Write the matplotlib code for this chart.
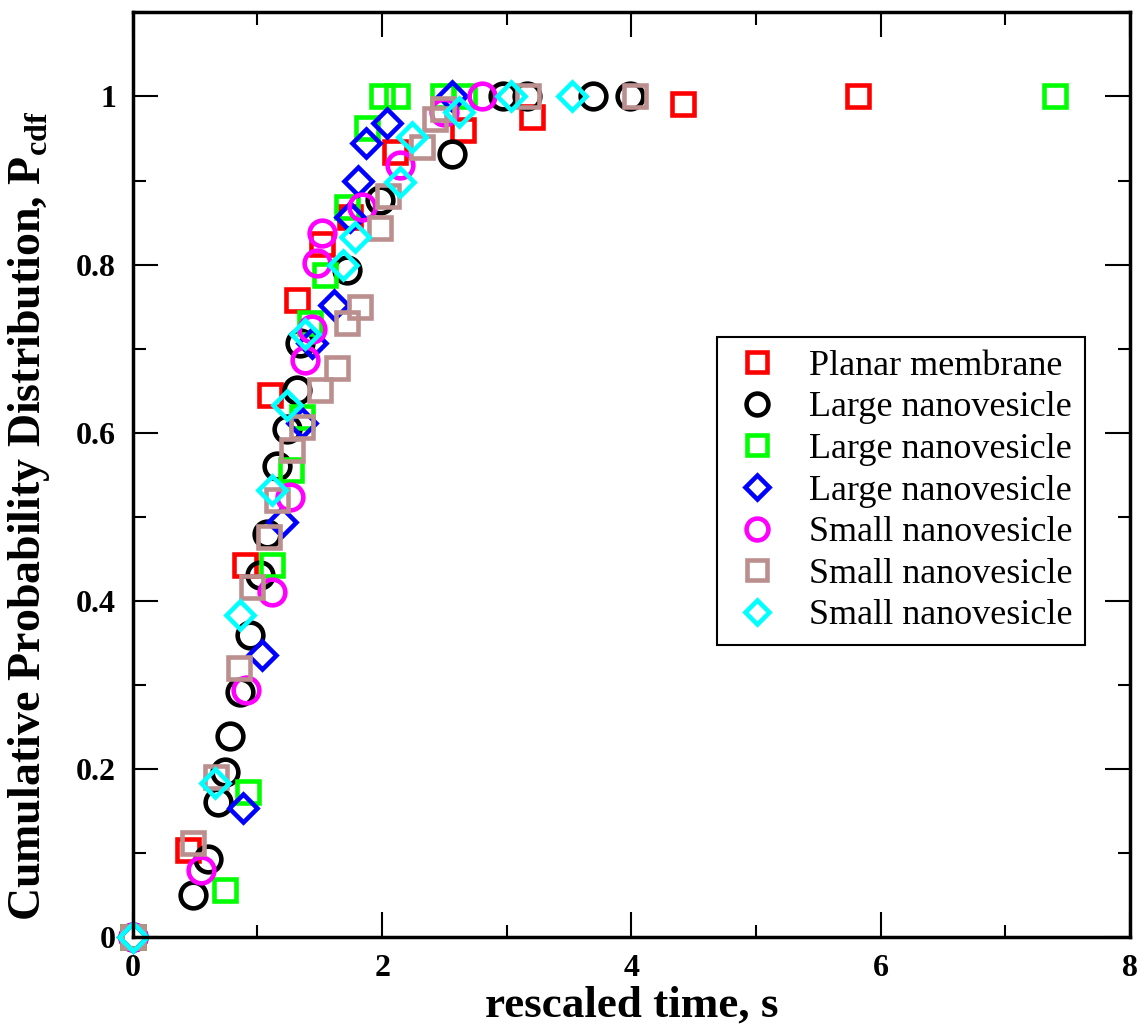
"""Cumulative probability distribution vs rescaled time for membrane/vesicle systems."""

import matplotlib
matplotlib.use("Agg")
import matplotlib.pyplot as plt
from matplotlib.ticker import MultipleLocator

# series (x = rescaled time in s, y = P_cdf)
planar_x = [0, 0.44, 0.90, 1.10, 1.32, 1.52, 1.74, 2.10, 2.65, 3.20, 4.41, 5.82]
planar_y = [0, 0.104, 0.443, 0.645, 0.758, 0.824, 0.857, 0.934, 0.96, 0.976, 0.991, 1.0]

large1_x = [0, 0.48, 0.60, 0.68, 0.74, 0.78, 0.86, 0.94, 1.02, 1.08, 1.16, 1.24, 1.32,
            1.34, 1.72, 1.98, 2.56, 2.97, 3.16, 3.69, 3.99]
large1_y = [0, 0.05, 0.093, 0.161, 0.196, 0.239, 0.292, 0.36, 0.431, 0.48, 0.56, 0.604, 0.651,
            0.707, 0.794, 0.877, 0.931, 1.0, 1.0, 1.0, 1.0]

large2_x = [0, 0.74, 0.92, 1.12, 1.27, 1.36, 1.42, 1.54, 1.72, 1.88, 2.0, 2.12, 2.49, 2.66, 7.40]
large2_y = [0, 0.056, 0.173, 0.443, 0.556, 0.619, 0.731, 0.788, 0.868, 0.963, 1.0, 1.0, 1.0, 1.0, 1.0]

large3_x = [0, 0.88, 1.04, 1.20, 1.36, 1.44, 1.61, 1.74, 1.81, 1.87, 2.04, 2.56]
large3_y = [0, 0.154, 0.336, 0.494, 0.612, 0.707, 0.752, 0.857, 0.9, 0.945, 0.969, 1.0]

small1_x = [0, 0.55, 0.91, 1.12, 1.26, 1.38, 1.44, 1.48, 1.52, 1.84, 2.14, 2.50, 2.80]
small1_y = [0, 0.08, 0.294, 0.41, 0.524, 0.687, 0.723, 0.802, 0.838, 0.869, 0.919, 0.982, 1.0]

small2_x = [0, 0.48, 0.67, 0.85, 0.96, 1.09, 1.16, 1.28, 1.36, 1.50, 1.64, 1.72, 1.82,
            1.98, 2.05, 2.32, 2.42, 2.49, 3.17, 4.03]
small2_y = [0, 0.112, 0.19, 0.32, 0.417, 0.476, 0.52, 0.58, 0.607, 0.651, 0.677, 0.731, 0.749,
            0.844, 0.881, 0.94, 0.973, 0.985, 1.0, 1.0]

small3_x = [0, 0.66, 0.86, 1.12, 1.24, 1.38, 1.69, 1.78, 2.14, 2.24, 2.62, 3.03, 3.52]
small3_y = [0, 0.183, 0.383, 0.532, 0.633, 0.717, 0.8, 0.833, 0.898, 0.952, 0.982, 1.0, 1.0]

labels = ["Planar membrane", "Large nanovesicle", "Large nanovesicle", "Large nanovesicle",
          "Small nanovesicle", "Small nanovesicle", "Small nanovesicle"]

plt.rcParams["font.family"] = ["Liberation Serif", "DejaVu Serif"]
plt.rcParams["mathtext.fontset"] = "custom"
plt.rcParams["mathtext.rm"] = "Liberation Serif"
plt.rcParams["mathtext.bf"] = "Liberation Serif:bold"


def main():
    fig = plt.figure(figsize=(11.45, 10.31), dpi=100)
    ax = fig.add_axes([0.116, 0.091, 0.871, 0.897])

    series = [
        (planar_x, planar_y, "s", "#ff0000", 16.5),
        (large1_x, large1_y, "o", "#000000", 18.5),
        (large2_x, large2_y, "s", "#00ff00", 16.5),
        (large3_x, large3_y, "D", "#0000ff", 14),
        (small1_x, small1_y, "o", "#ff00ff", 18.5),
        (small2_x, small2_y, "s", "#bc8f8f", 16.5),
        (small3_x, small3_y, "D", "#00ffff", 14),
    ]
    for (x, y, marker, color, size), label in zip(series, labels):
        ax.plot(x, y, linestyle="none", marker=marker, markersize=size,
                markerfacecolor="none", markeredgecolor=color, markeredgewidth=3.3,
                label=label, clip_on=False)

    ax.set_xlim(0, 8)
    ax.set_ylim(0, 1.1)
    ax.xaxis.set_major_locator(MultipleLocator(2))
    ax.xaxis.set_minor_locator(MultipleLocator(1))
    ax.yaxis.set_major_locator(MultipleLocator(0.2))
    ax.yaxis.set_minor_locator(MultipleLocator(0.1))
    ax.set_xticks([0, 2, 4, 6, 8])
    ax.set_xticklabels(["0", "2", "4", "6", "8"])
    ax.set_yticks([0, 0.2, 0.4, 0.6, 0.8, 1.0])
    ax.set_yticklabels(["0", "0.2", "0.4", "0.6", "0.8", "1"])

    ax.tick_params(which="both", direction="in", top=True, right=True, width=1.5)
    ax.tick_params(which="major", length=18, labelsize=23, pad=12)
    ax.tick_params(which="minor", length=9)
    for lab in ax.get_xticklabels() + ax.get_yticklabels():
        lab.set_fontweight("bold")
    for spine in ax.spines.values():
        spine.set_linewidth(2.5)

    ax.set_xlabel("rescaled time, s", fontsize=32.5, fontweight="bold", labelpad=2)
    ax.set_ylabel(r"Cumulative Probability Distribution, P$_{\mathbf{cdf}}$",
                  fontsize=33, fontweight="bold")
    ax.yaxis.set_label_coords(-0.081, 0.455)

    leg = ax.legend(loc="upper right", bbox_to_anchor=(0.955, 0.649), fontsize=26,
                    frameon=True, fancybox=False, edgecolor="black", framealpha=1,
                    labelspacing=0.23, handletextpad=0.7, borderpad=0.35,
                    handlelength=1.5, borderaxespad=0)
    leg.get_frame().set_linewidth(1.5)
    for h in leg.legend_handles:
        h.set_markersize(h.get_markersize() * 0.85)

    fig.savefig("out.png", dpi=100)


if __name__ == "__main__":
    main()
